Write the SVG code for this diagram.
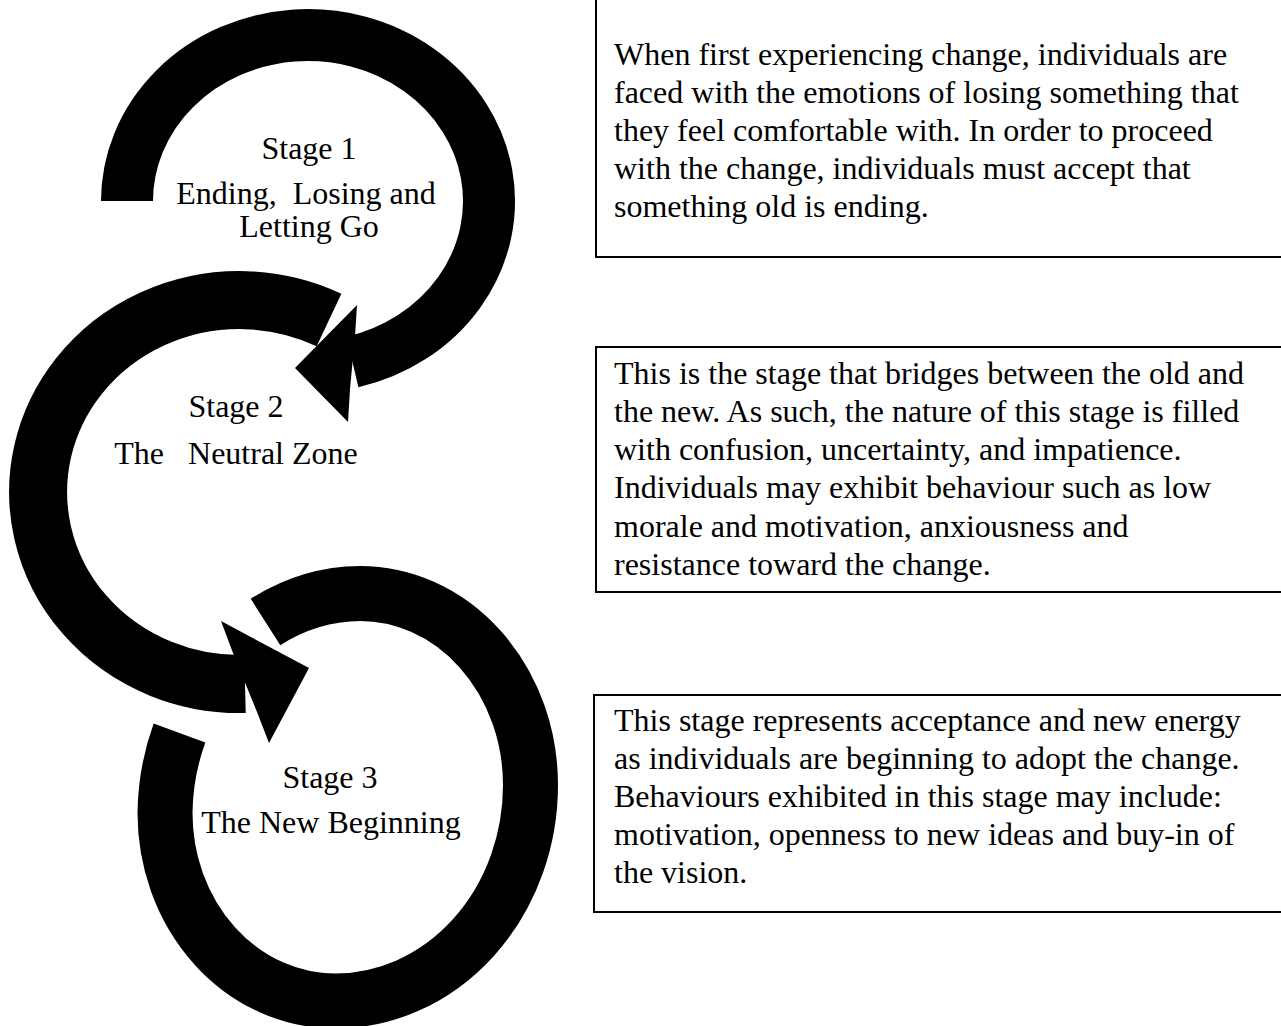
<svg xmlns="http://www.w3.org/2000/svg" width="1281" height="1026" viewBox="0 0 1281 1026">
  <style>
    .band { fill: none; stroke: #000; stroke-linecap: butt; }
    .head { fill: #000; stroke: none; }
    .label { font-family: "Liberation Serif", "Times New Roman", serif; font-size: 32px; fill: #000; text-anchor: middle; white-space: pre; }
    .box { fill: #fff; stroke: #000; stroke-width: 2; }
    .body { font-family: "Liberation Serif", "Times New Roman", serif; font-size: 32px; fill: #000; }
  </style>
  <rect width="1281" height="1026" fill="#fff"/>

  <!-- curved arrows linking the three stages -->
  <g id="connectors">
    <!-- stage 1 loop, ending in a head pointing into stage 2 -->
    <path class="band" stroke-width="52" d="M 127 201 A 181 166 0 1 1 352.5 362"/>
    <polygon class="head" points="355,336 357,305 295,368 348,422 350,389"/>
    <!-- stage 2 loop, ending in a head pointing into stage 3 -->
    <path class="band" stroke-width="58" d="M 329 320 A 201.5 192 0 1 0 245 684"/>
    <polygon class="head" points="233,653 221,621 309,668 269,743 257,712"/>
    <!-- stage 3 ring -->
    <path class="band" stroke-width="55" d="M 265.5 622 A 195 219.5 0 0 1 360 593.5 A 170.5 191.5 0 0 1 530.5 785 A 195.5 216 0 0 1 335 1001 A 170 188 0 0 1 165 813 A 195 219.5 0 0 1 179.5 733"/>
  </g>

  <g id="stage1">
    <text class="label" x="309" y="159">Stage 1</text>
    <text class="label" x="306" y="204" xml:space="preserve">Ending,  Losing and</text>
    <text class="label" x="309" y="237">Letting Go</text>
  </g>
  <g id="stage2">
    <text class="label" x="236" y="417">Stage 2</text>
    <text class="label" x="236" y="464" xml:space="preserve">The   Neutral Zone</text>
  </g>
  <g id="stage3">
    <text class="label" x="330" y="788">Stage 3</text>
    <text class="label" x="331" y="833">The New Beginning</text>
  </g>

  <g id="desc1">
    <rect class="box" x="596" y="-5" width="700" height="262"/>
    <text class="body" x="614" y="65">When first experiencing change, individuals are</text>
    <text class="body" x="614" y="103">faced with the emotions of losing something that</text>
    <text class="body" x="614" y="141">they feel comfortable with. In order to proceed</text>
    <text class="body" x="614" y="179">with the change, individuals must accept that</text>
    <text class="body" x="614" y="217">something old is ending.</text>
  </g>
  <g id="desc2">
    <rect class="box" x="596" y="347" width="700" height="245"/>
    <text class="body" x="614" y="384">This is the stage that bridges between the old and</text>
    <text class="body" x="614" y="422">the new. As such, the nature of this stage is filled</text>
    <text class="body" x="614" y="460">with confusion, uncertainty, and impatience.</text>
    <text class="body" x="614" y="498">Individuals may exhibit behaviour such as low</text>
    <text class="body" x="614" y="537">morale and motivation, anxiousness and</text>
    <text class="body" x="614" y="575">resistance toward the change.</text>
  </g>
  <g id="desc3">
    <rect class="box" x="594" y="695" width="702" height="217"/>
    <text class="body" x="614" y="731">This stage represents acceptance and new energy</text>
    <text class="body" x="614" y="769">as individuals are beginning to adopt the change.</text>
    <text class="body" x="614" y="807">Behaviours exhibited in this stage may include:</text>
    <text class="body" x="614" y="845">motivation, openness to new ideas and buy-in of</text>
    <text class="body" x="614" y="883">the vision.</text>
  </g>
</svg>
